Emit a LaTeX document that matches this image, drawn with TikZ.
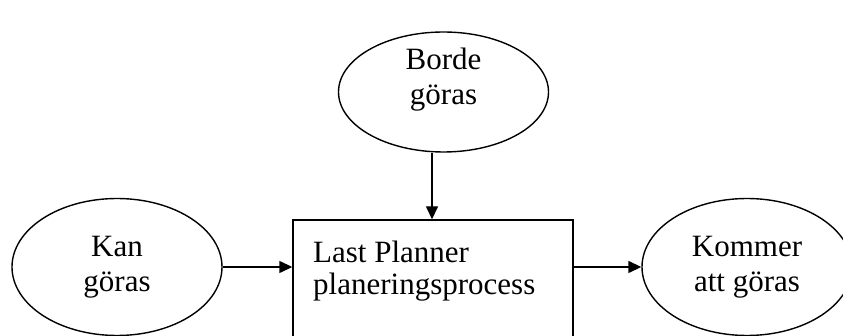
\documentclass[tikz,border=0pt]{standalone}
\usepackage{fontspec}
\setmainfont{Liberation Serif}
\usetikzlibrary{shapes.geometric,arrows.meta}
\tikzset{
  oval/.style={draw, ellipse, line width=1.4pt, inner sep=0pt,
    minimum width=210pt, align=center,
    font=\fontsize{31}{34.5}\selectfont},
  ovaltext/.style={inner sep=0pt, align=center,
    font=\fontsize{31}{35}\selectfont},
  procbox/.style={draw, rectangle, line width=1.4pt, inner sep=0pt,
    minimum width=280pt, minimum height=130pt},
  boxtext/.style={inner sep=0pt, align=left, anchor=north west,
    font=\fontsize{31}{32}\selectfont},
  flow/.style={line width=1.4pt, -{Triangle[length=13pt,width=12pt]}}
}
\begin{document}
\begin{tikzpicture}[x=1pt,y=-1pt]
  \useasboundingbox (0,0) rectangle (843,336);
  \clip (0,0) rectangle (843,336);
  % the upper oval, its text sits high inside it
  \node[oval, minimum height=120pt] (should) at (443.5,92) {};
  \node[ovaltext, anchor=north] (shouldtext) at (443.5,48) {Borde\\göras};
  % the side ovals
  \node[oval, minimum height=137pt] (can) at (117,267) {Kan\\göras};
  \node[oval, minimum height=137pt] (will) at (747,267) {Kommer\\att göras};
  % the planning process box (runs past the lower edge)
  \node[procbox] (proc) at (433,285) {};
  \node[boxtext] (proclabel) at (313,240.5) {Last Planner\\planeringsprocess};
  % connectors
  \coordinate (drop) at ([xshift=-11.5pt]should.south);
  \draw[flow] (drop) -- (drop |- proc.north);
  \draw[flow] (can.east) -- (can.east -| proc.west);
  \draw[flow] (will.west -| proc.east) -- (will.west);
\end{tikzpicture}
\end{document}
